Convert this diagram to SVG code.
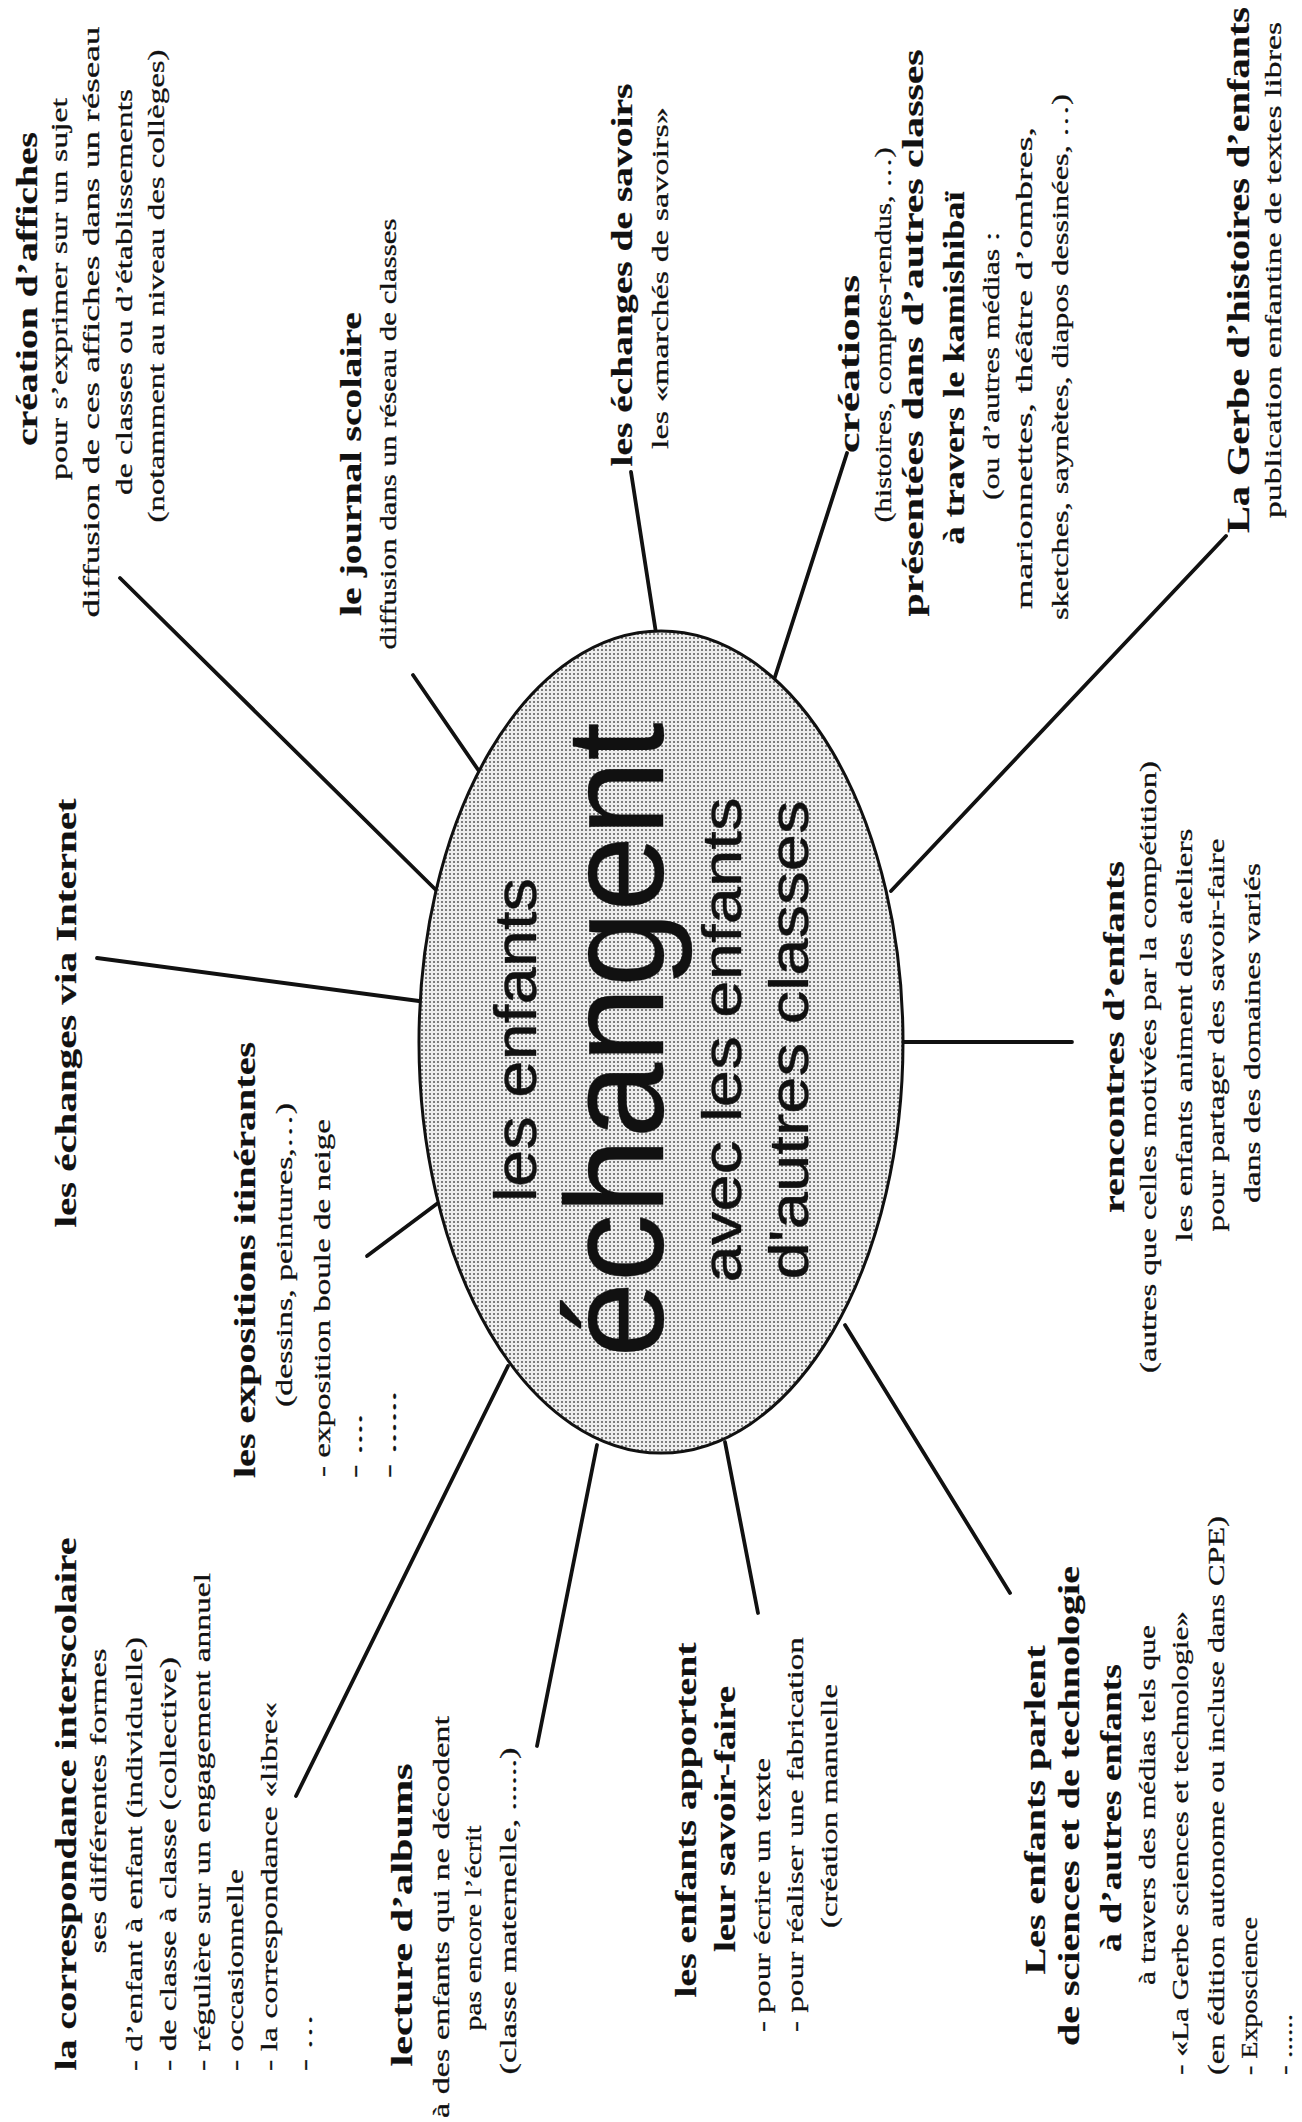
<svg xmlns="http://www.w3.org/2000/svg" width="1302" height="2122" viewBox="0 0 1302 2122">
<defs>
<pattern id="dots" width="4" height="4" patternUnits="userSpaceOnUse">
<rect width="4" height="4" fill="#efefef"/>
<circle cx="2" cy="2" r="1" fill="#5a5a5a"/>
</pattern>
<style>
text{font-family:"Liberation Serif","Times New Roman",serif;font-size:24px;fill:#111;stroke:#111;stroke-width:0.3}
.b{font-weight:bold;font-size:29px;stroke-width:0.2}
.g{font-size:31px}
.c{font-family:"Liberation Sans Narrow","Liberation Sans",Arial,sans-serif;stroke-width:0.4}
.c1{font-size:60px}
.c2{font-size:140px}
.c3{font-size:56px}
.m{text-anchor:middle}
.s{text-anchor:start}
#connectors line{stroke:#111;stroke-width:3.8;stroke-linecap:round}
</style>
</defs>
<rect width="1302" height="2122" fill="#ffffff"/>

<g id="connectors">
<line x1="120" y1="578" x2="437" y2="891"/>
<line x1="413" y1="675" x2="481" y2="774"/>
<line x1="631" y1="472" x2="656" y2="633"/>
<line x1="847" y1="453" x2="773" y2="683"/>
<line x1="1226" y1="536" x2="891" y2="891"/>
<line x1="903" y1="1042" x2="1072" y2="1042"/>
<line x1="845" y1="1325" x2="1010" y2="1593"/>
<line x1="725" y1="1442" x2="758" y2="1613"/>
<line x1="597" y1="1445" x2="537" y2="1746"/>
<line x1="508" y1="1366" x2="296" y2="1796"/>
<line x1="446" y1="1197" x2="367" y2="1256"/>
<line x1="419" y1="1001" x2="97" y2="958"/>
</g>

<g id="center">
<ellipse cx="661" cy="1042" rx="242" ry="411" fill="url(#dots)" stroke="#111" stroke-width="3"/>
<text class="c c1 m" transform="translate(536 1040) rotate(-90)" textLength="324" lengthAdjust="spacingAndGlyphs">les enfants</text>
<text class="c c2 m" transform="translate(663 1040) rotate(-90)" textLength="635" lengthAdjust="spacingAndGlyphs">échangent</text>
<text class="c c3 m" transform="translate(741 1040) rotate(-90)" textLength="485" lengthAdjust="spacingAndGlyphs">avec les enfants</text>
<text class="c c3 m" transform="translate(808 1040) rotate(-90)" textLength="479" lengthAdjust="spacingAndGlyphs">d'autres classes</text>
</g>

<g id="n-affiches">
<text class="b m" transform="translate(37 289) rotate(-90)" textLength="314" lengthAdjust="spacingAndGlyphs">création d’affiches</text>
<text class="m" transform="translate(67 289) rotate(-90)" textLength="382" lengthAdjust="spacingAndGlyphs">pour s’exprimer sur un sujet</text>
<text class="m" transform="translate(99 322) rotate(-90)" textLength="591" lengthAdjust="spacingAndGlyphs">diffusion de ces affiches dans un réseau</text>
<text class="m" transform="translate(132 292) rotate(-90)" textLength="406" lengthAdjust="spacingAndGlyphs">de classes ou d’établissements</text>
<text class="m" transform="translate(164 286) rotate(-90)" textLength="473" lengthAdjust="spacingAndGlyphs">(notamment au niveau des collèges)</text>
</g>

<g id="n-journal">
<text class="b m" transform="translate(361 464) rotate(-90)" textLength="304" lengthAdjust="spacingAndGlyphs">le journal scolaire</text>
<text class="m" transform="translate(396 434) rotate(-90)" textLength="431" lengthAdjust="spacingAndGlyphs">diffusion dans un réseau de classes</text>
</g>

<g id="n-savoirs">
<text class="b m" transform="translate(632 275) rotate(-90)" textLength="383" lengthAdjust="spacingAndGlyphs">les échanges de savoirs</text>
<text class="m" transform="translate(668 278) rotate(-90)" textLength="342" lengthAdjust="spacingAndGlyphs">les «marchés de savoirs»</text>
</g>

<g id="n-creations">
<text class="b m" transform="translate(859 364) rotate(-90)" textLength="178" lengthAdjust="spacingAndGlyphs">créations</text>
<text class="m" transform="translate(891 335) rotate(-90)" textLength="375" lengthAdjust="spacingAndGlyphs">(histoires, comptes-rendus, …)</text>
<text class="b m" transform="translate(923 333) rotate(-90)" textLength="567" lengthAdjust="spacingAndGlyphs">présentées dans d’autres classes</text>
<text class="b m" transform="translate(964 368) rotate(-90)" textLength="353" lengthAdjust="spacingAndGlyphs">à travers le kamishibaï</text>
<text class="m" transform="translate(999 366) rotate(-90)" textLength="268" lengthAdjust="spacingAndGlyphs">(ou d’autres médias :</text>
<text class="m" transform="translate(1032 368) rotate(-90)" textLength="482" lengthAdjust="spacingAndGlyphs">marionnettes, théâtre d’ombres,</text>
<text class="m" transform="translate(1068 357) rotate(-90)" textLength="526" lengthAdjust="spacingAndGlyphs">sketches, saynètes, diapos dessinées, …)</text>
</g>

<g id="n-gerbe">
<text class="b g m" transform="translate(1249 270) rotate(-90)" textLength="526" lengthAdjust="spacingAndGlyphs">La Gerbe d’histoires d’enfants</text>
<text class="m" transform="translate(1281 270) rotate(-90)" textLength="496" lengthAdjust="spacingAndGlyphs">publication enfantine de textes libres</text>
</g>

<g id="n-rencontres">
<text class="b m" transform="translate(1124 1037) rotate(-90)" textLength="352" lengthAdjust="spacingAndGlyphs">rencontres d’enfants</text>
<text class="m" transform="translate(1156 1067) rotate(-90)" textLength="612" lengthAdjust="spacingAndGlyphs">(autres que celles motivées par la compétition)</text>
<text class="m" transform="translate(1192 1035) rotate(-90)" textLength="413" lengthAdjust="spacingAndGlyphs">les enfants animent des ateliers</text>
<text class="m" transform="translate(1224 1035) rotate(-90)" textLength="393" lengthAdjust="spacingAndGlyphs">pour partager des savoir-faire</text>
<text class="m" transform="translate(1260 1033) rotate(-90)" textLength="340" lengthAdjust="spacingAndGlyphs">dans des domaines variés</text>
</g>

<g id="n-internet">
<text class="b m" transform="translate(76 1013) rotate(-90)" textLength="429" lengthAdjust="spacingAndGlyphs">les échanges via Internet</text>
</g>

<g id="n-expositions">
<text class="b s" transform="translate(255 1478) rotate(-90)" textLength="436" lengthAdjust="spacingAndGlyphs">les expositions itinérantes</text>
<text class="s" transform="translate(292 1407) rotate(-90)" textLength="304" lengthAdjust="spacingAndGlyphs">(dessins, peintures,…)</text>
<text class="s" transform="translate(330 1477) rotate(-90)" textLength="358" lengthAdjust="spacingAndGlyphs">- exposition boule de neige</text>
<text class="s" transform="translate(362 1478) rotate(-90)" textLength="64" lengthAdjust="spacingAndGlyphs">- ....</text>
<text class="s" transform="translate(396 1478) rotate(-90)" textLength="87" lengthAdjust="spacingAndGlyphs">- ......</text>
</g>

<g id="n-correspondance">
<text class="b m" transform="translate(76 1804) rotate(-90)" textLength="533" lengthAdjust="spacingAndGlyphs">la correspondance interscolaire</text>
<text class="m" transform="translate(106 1801) rotate(-90)" textLength="305" lengthAdjust="spacingAndGlyphs">ses différentes formes</text>
<text class="s" transform="translate(142 2071) rotate(-90)" textLength="434" lengthAdjust="spacingAndGlyphs">- d’enfant à enfant (individuelle)</text>
<text class="s" transform="translate(176 2071) rotate(-90)" textLength="414" lengthAdjust="spacingAndGlyphs">- de classe à classe (collective)</text>
<text class="s" transform="translate(210 2071) rotate(-90)" textLength="498" lengthAdjust="spacingAndGlyphs">- régulière sur un engagement annuel</text>
<text class="s" transform="translate(243 2071) rotate(-90)" textLength="202" lengthAdjust="spacingAndGlyphs">- occasionnelle</text>
<text class="s" transform="translate(277 2071) rotate(-90)" textLength="369" lengthAdjust="spacingAndGlyphs">- la correspondance «libre«</text>
<text class="s" transform="translate(312 2071) rotate(-90)" textLength="57" lengthAdjust="spacingAndGlyphs">- …</text>
</g>

<g id="n-lecture">
<text class="b m" transform="translate(412 1915) rotate(-90)" textLength="303" lengthAdjust="spacingAndGlyphs">lecture d’albums</text>
<text class="m" transform="translate(449 1917) rotate(-90)" textLength="402" lengthAdjust="spacingAndGlyphs">à des  enfants qui ne décodent</text>
<text class="m" transform="translate(481 1928) rotate(-90)" textLength="205" lengthAdjust="spacingAndGlyphs">pas encore l’écrit</text>
<text class="m" transform="translate(516 1911) rotate(-90)" textLength="327" lengthAdjust="spacingAndGlyphs">(classe maternelle, ......)</text>
</g>

<g id="n-apportent">
<text class="b m" transform="translate(696 1820) rotate(-90)" textLength="355" lengthAdjust="spacingAndGlyphs">les enfants apportent</text>
<text class="b m" transform="translate(735 1819) rotate(-90)" textLength="266" lengthAdjust="spacingAndGlyphs">leur savoir-faire</text>
<text class="s" transform="translate(770 2032) rotate(-90)" textLength="274" lengthAdjust="spacingAndGlyphs">- pour écrire un texte</text>
<text class="s" transform="translate(803 2032) rotate(-90)" textLength="395" lengthAdjust="spacingAndGlyphs">- pour réaliser une fabrication</text>
<text class="m" transform="translate(837 1806) rotate(-90)" textLength="244" lengthAdjust="spacingAndGlyphs">(création manuelle</text>
</g>

<g id="n-sciences">
<text class="b m" transform="translate(1045 1810) rotate(-90)" textLength="329" lengthAdjust="spacingAndGlyphs">Les enfants parlent</text>
<text class="b m" transform="translate(1079 1806) rotate(-90)" textLength="480" lengthAdjust="spacingAndGlyphs">de sciences et de technologie</text>
<text class="b m" transform="translate(1121 1808) rotate(-90)" textLength="288" lengthAdjust="spacingAndGlyphs">à d’autres enfants</text>
<text class="m" transform="translate(1155 1805) rotate(-90)" textLength="360" lengthAdjust="spacingAndGlyphs">à travers des médias tels que</text>
<text class="s" transform="translate(1188 2075) rotate(-90)" textLength="464" lengthAdjust="spacingAndGlyphs">- «La Gerbe sciences et technologie»</text>
<text class="s" transform="translate(1224 2075) rotate(-90)" textLength="559" lengthAdjust="spacingAndGlyphs">(en édition autonome  ou incluse dans CPE)</text>
<text class="s" transform="translate(1257 2075) rotate(-90)" textLength="158" lengthAdjust="spacingAndGlyphs">- Exposcience</text>
<text class="s" transform="translate(1292 2075) rotate(-90)" textLength="61" lengthAdjust="spacingAndGlyphs">- ......</text>
</g>
</svg>
